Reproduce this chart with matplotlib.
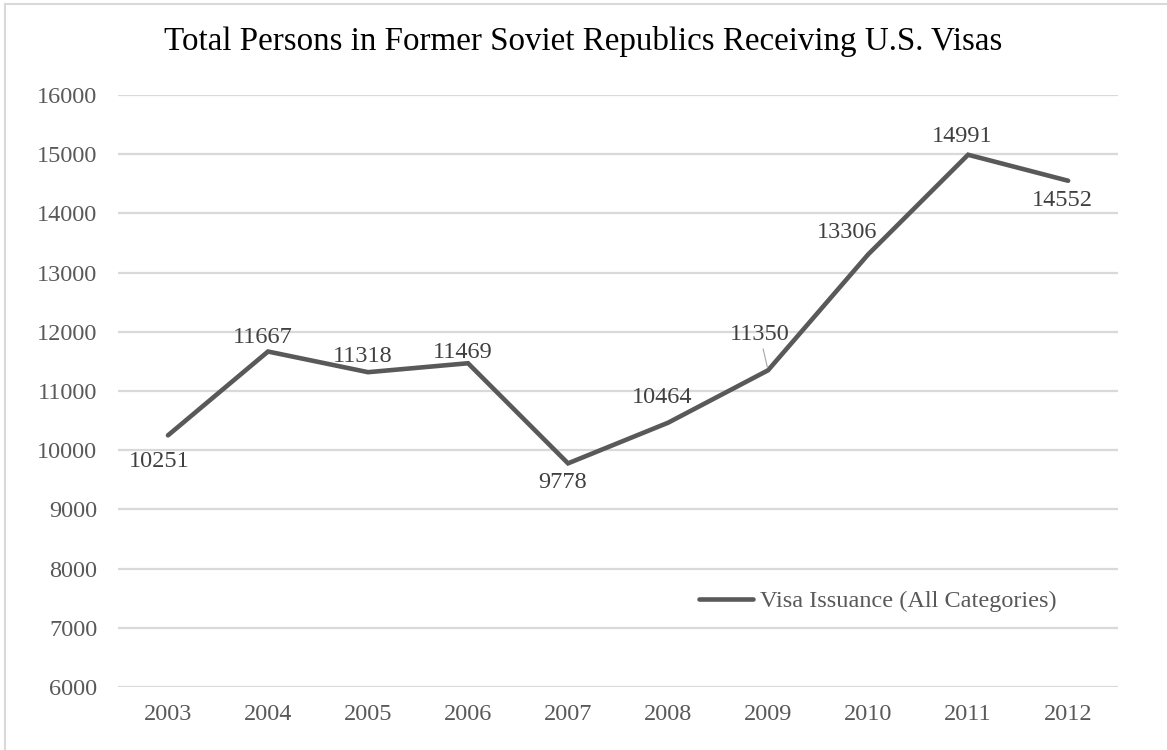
import matplotlib.pyplot as plt
from matplotlib.lines import Line2D

years = ['2003', '2004', '2005', '2006', '2007', '2008', '2009', '2010', '2011', '2012']
visas = [10251, 11667, 11318, 11469, 9778, 10464, 11350, 13306, 14991, 14552]
# label offsets in points from each point
label_offsets = [(-6, -19), (-4, 10), (-4, 11), (-4, 8), (-4, -14),
                 (-4, 18), (-6, 26), (-15, 16), (-4, 13), (-4, -14)]

plt.rcParams['font.family'] = ['Liberation Serif', 'DejaVu Serif']

fig = plt.figure(figsize=(11.67, 7.5), dpi=100)
ax = fig.add_axes([0.1011, 0.084, 0.857, 0.7893])

x = list(range(len(years)))
ax.plot(x, visas, color='#595959', lw=3.3, solid_capstyle='round',
        solid_joinstyle='miter', label='Visa Issuance (All Categories)', zorder=3)

for i, v in enumerate(visas):
    dx, dy = label_offsets[i]
    arrow = None
    if years[i] == '2009':
        arrow = dict(arrowstyle='-', color='#a6a6a6', lw=0.8, shrinkA=1, shrinkB=2)
    ax.annotate(str(v), (i, v), xytext=(dx, dy), textcoords='offset points',
                ha='center', va='center', fontsize=17.5, color='#404040',
                arrowprops=arrow)

ax.set_xlim(-0.5, len(years) - 0.5)
ax.set_ylim(6000, 16000)
ax.set_yticks(range(6000, 16001, 1000))
ax.set_xticks(x)
ax.set_xticklabels(years)
ax.tick_params(length=0, labelsize=17.5, labelcolor='#595959')
ax.tick_params(axis='y', pad=15)
ax.tick_params(axis='x', pad=12)
ax.grid(axis='y', color='#d9d9d9', lw=1.6)
ax.set_axisbelow(True)
for s in ax.spines.values():
    s.set_visible(False)

ax.legend(loc='center left', bbox_to_anchor=(0.581, 0.145), frameon=False,
          fontsize=17.5, handlelength=2.2, handletextpad=0.3, borderpad=0,
          borderaxespad=0, labelcolor='#595959')

fig.text(0.5, 0.945, 'Total Persons in Former Soviet Republics Receiving U.S. Visas',
         ha='center', va='center', fontsize=23.8, color='#000000')

# chart frame
fig.add_artist(Line2D([0.0043, 1.0], [0.9953, 0.9953], color='#d9d9d9', lw=1.5))
fig.add_artist(Line2D([0.0043, 0.0043], [0.0, 0.9953], color='#d9d9d9', lw=1.5))

fig.savefig('out.png', dpi=100)
